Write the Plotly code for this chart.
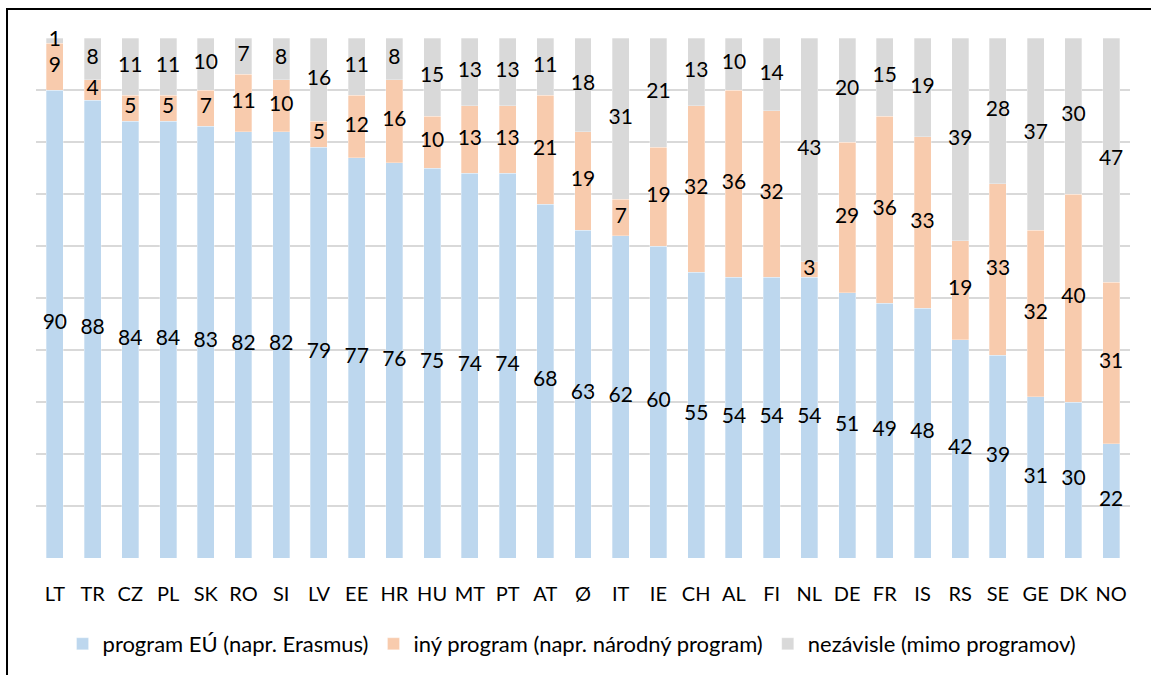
import plotly.graph_objects as go

# Countries and shares (%) by type of mobility programme
countries = ["LT", "TR", "CZ", "PL", "SK", "RO", "SI", "LV", "EE", "HR", "HU", "MT", "PT", "AT", "Ø",
             "IT", "IE", "CH", "AL", "FI", "NL", "DE", "FR", "IS", "RS", "SE", "GE", "DK", "NO"]
eu_program = [90, 88, 84, 84, 83, 82, 82, 79, 77, 76, 75, 74, 74, 68, 63,
              62, 60, 55, 54, 54, 54, 51, 49, 48, 42, 39, 31, 30, 22]
other_program = [9, 4, 5, 5, 7, 11, 10, 5, 12, 16, 10, 13, 13, 21, 19,
                 7, 19, 32, 36, 32, 3, 29, 36, 33, 19, 33, 32, 40, 31]
independent = [1, 8, 11, 11, 10, 7, 8, 16, 11, 8, 15, 13, 13, 11, 18,
               31, 21, 13, 10, 14, 43, 20, 15, 19, 39, 28, 37, 30, 47]

series_names = ["program EÚ (napr. Erasmus)",
                "iný program (napr. národný program)",
                "nezávisle (mimo programov)"]
series_values = [eu_program, other_program, independent]
series_colors = ["#BDD7EE", "#F8CBAD", "#D9D9D9"]

FONT = "Lato"

fig = go.Figure()

# stacked bars
for name, vals, col in zip(series_names, series_values, series_colors):
    fig.add_trace(go.Bar(
        x=countries, y=vals, name=name,
        marker=dict(color=col, line=dict(color="rgba(255,255,255,0.6)", width=0.5)),
        hoverinfo="skip",
    ))

# value labels centred in each segment
base = [0] * len(countries)
for vals in series_values:
    centers = [b + v / 2 for b, v in zip(base, vals)]
    fig.add_trace(go.Scatter(
        x=countries, y=centers, mode="text",
        text=[str(v) for v in vals],
        textfont=dict(family=FONT, size=21, color="#000000"),
        cliponaxis=False,
        showlegend=False, hoverinfo="skip",
    ))
    base = [b + v for b, v in zip(base, vals)]

fig.update_layout(
    barmode="stack",
    bargap=0.55,
    width=1151, height=675,
    margin=dict(l=36, r=21, t=38, b=117, autoexpand=False),
    paper_bgcolor="white",
    plot_bgcolor="white",
    font=dict(family=FONT, size=20, color="#000000"),
    legend=dict(
        orientation="h", x=0.49, xanchor="center", y=-0.125, yanchor="top",
        font=dict(family=FONT, size=22, color="#000000"),
        itemwidth=30, traceorder="normal",
    ),
    xaxis=dict(
        range=[-0.5, len(countries) - 0.5],
        showline=False, ticks="", showgrid=False,
        tickfont=dict(family=FONT, size=20, color="#000000"),
        ticklabelstandoff=22,
        automargin=False,
        fixedrange=True,
    ),
    yaxis=dict(
        range=[0, 100], tickvals=list(range(10, 101, 10)),
        showticklabels=False, showgrid=True, gridcolor="#D9D9D9", gridwidth=1.5,
        zeroline=False, showline=False, automargin=False, fixedrange=True,
    ),
    shapes=[dict(
        type="path", xref="paper", yref="paper",
        path="M {:.4f},{:.4f} L {:.4f},{:.4f} L {:.4f},{:.4f}".format(
            (7 - 36) / 1094, (558 - 700) / 520,
            (7 - 36) / 1094, (558 - 9) / 520,
            (1160 - 36) / 1094, (558 - 9) / 520),
        line=dict(color="#000000", width=2),
    )],
)

fig.write_html("out.html")
